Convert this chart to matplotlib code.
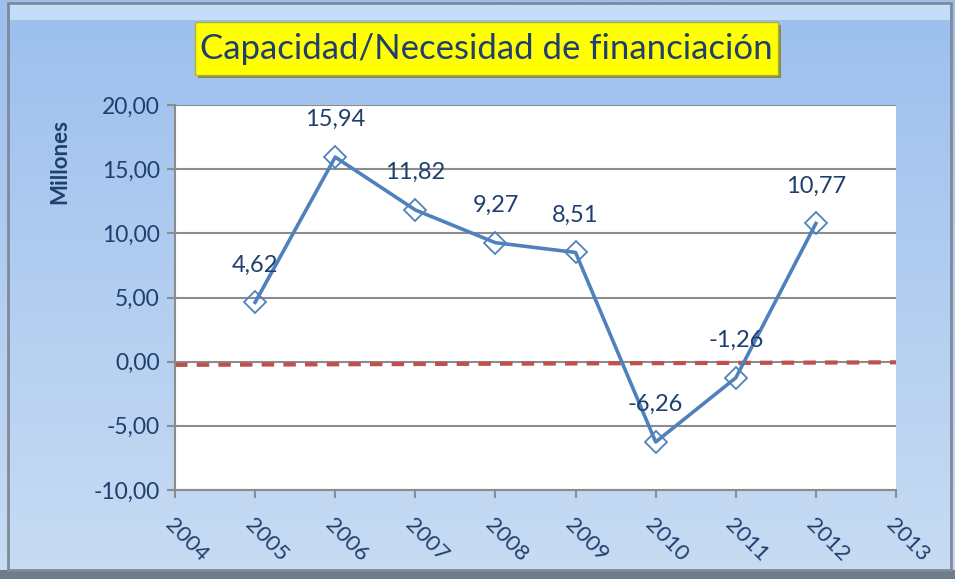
import numpy as np
import matplotlib.pyplot as plt
from matplotlib.patches import Rectangle

# data
years = [2005, 2006, 2007, 2008, 2009, 2010, 2011, 2012]
values = [4.62, 15.94, 11.82, 9.27, 8.51, -6.26, -1.26, 10.77]
labels = ['4,62', '15,94', '11,82', '9,27', '8,51', '-6,26', '-1,26', '10,77']
ref_x = [2004, 2013]
ref_y = [-0.25, -0.05]
x_ticks = list(range(2004, 2014))
y_ticks = [-10, -5, 0, 5, 10, 15, 20]

plt.rcParams['font.family'] = ['Lato', 'DejaVu Sans']
dark = '#1f3f6e'

fig = plt.figure(figsize=(9.55, 5.79), dpi=100)

# blue gradient background (darker at top, lighter at bottom)
bg = fig.add_axes([0, 0, 1, 1])
grad = np.linspace(0, 1, 256).reshape(-1, 1)
c_top = np.array([0x9c, 0xbf, 0xee]) / 255
c_bot = np.array([0xc8, 0xdc, 0xf3]) / 255
img = c_top + (c_bot - c_top) * grad[:, :, None]
bg.imshow(img, aspect='auto', extent=[0, 1, 1, 0], origin='upper')
bg.set_xlim(0, 1)
bg.set_ylim(1, 0)
bg.axis('off')
bg.add_patch(Rectangle((0.01, 0.005), 0.985, 0.03, color='#cfe6fb', alpha=0.8, lw=0))
bg.add_patch(Rectangle((0.0, 0.985), 1.0, 0.015, color='#6f7c8c', lw=0))
bg.add_patch(Rectangle((0.008, 0.005), 0.988, 0.98, fill=False, ec='#7f8a99', lw=2))

# yellow title box with a slight shadow
bg.add_patch(Rectangle((198 / 955, 25 / 579), 583 / 955, 53 / 579, color='#8a8a40', lw=0))
bg.add_patch(Rectangle((195 / 955, 22 / 579), 583 / 955, 53 / 579,
                       fc='#ffff00', ec='#b0b040', lw=1))

ax = fig.add_axes([175 / 955, 1 - 490 / 579, (896 - 175) / 955, (490 - 105) / 579])
ax.set_facecolor('white')
ax.plot(ref_x, ref_y, color='#c0504d', lw=3, ls=(0, (3, 2.2)), zorder=2)
ax.plot(years, values, color='#4f81bd', lw=2.6, marker='D', ms=11,
        mfc='none', mec='#4f81bd', mew=1.3, zorder=3)
for x, y, t in zip(years, values, labels):
    ax.annotate(t, (x, y), xytext=(0, 27), textcoords='offset points',
                ha='center', va='center', fontsize=17, color=dark)

ax.set_xlim(2004, 2013)
ax.set_ylim(-10, 20)
ax.set_xticks(x_ticks)
ax.set_xticklabels([str(v) for v in x_ticks], rotation=-45, ha='left', va='top',
                   rotation_mode='anchor', fontsize=16, color=dark)
ax.set_yticks(y_ticks)
ax.yaxis.set_major_formatter(plt.FuncFormatter(lambda v, p: ('%.2f' % v).replace('.', ',')))
ax.tick_params(axis='y', labelsize=16.5, labelcolor=dark)
ax.grid(axis='y', color='#8c8c8c', lw=1.5)
ax.set_axisbelow(True)
for s in ['top', 'right']:
    ax.spines[s].set_visible(False)
for s in ['left', 'bottom']:
    ax.spines[s].set_color('#8c8c8c')
    ax.spines[s].set_linewidth(1.5)
ax.tick_params(axis='both', color='#8c8c8c', width=1.5, length=6)
ax.tick_params(axis='x', pad=12)
ax.tick_params(axis='y', pad=5)

fig.text(60 / 955, 1 - 162 / 579, 'Millones', rotation=90, ha='center', va='center',
         fontsize=16, fontweight='bold', color=dark)

fig.text(486 / 955, 1 - 49 / 579, 'Capacidad/Necesidad de financiación',
         ha='center', va='center', fontsize=25, color=dark)

fig.savefig('out.png', dpi=100)
